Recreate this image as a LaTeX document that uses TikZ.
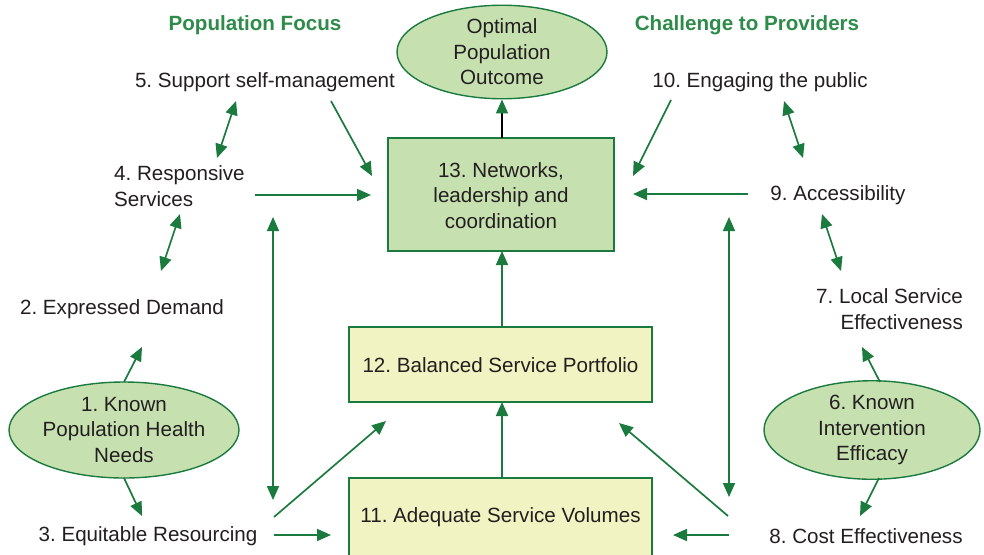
\documentclass[tikz,border=0pt]{standalone}
\usepackage{fontspec}
\setmainfont{Liberation Sans}
\usetikzlibrary{arrows.meta,shapes.geometric}
\definecolor{dkgreen}{HTML}{1B7A3E}
\definecolor{hdgreen}{HTML}{2E8B4A}
\definecolor{lgfill}{HTML}{C6E0B0}
\definecolor{lyfill}{HTML}{F1F3C2}
\definecolor{txt}{HTML}{231F20}
\frenchspacing
\begin{document}
\begin{tikzpicture}[x=1pt,y=-1pt,
  every node/.style={text=txt, font=\fontsize{20.6}{25.5}\selectfont},
  lbl/.style={inner sep=0pt},
  hdr/.style={inner sep=0pt, text=hdgreen, font=\fontsize{20.6}{24}\selectfont\bfseries},
  oval/.style={ellipse, draw=dkgreen, line width=1.4pt, fill=lgfill, inner sep=0pt, align=center},
  gbox/.style={rectangle, draw=dkgreen, line width=1.4pt, fill=lgfill, align=center},
  ybox/.style={rectangle, draw=dkgreen, line width=1.4pt, fill=lyfill, align=center},
  arr/.style={draw=dkgreen, line width=1.7pt, -{Triangle[length=14pt,width=12pt]}},
  biarr/.style={draw=dkgreen, line width=1.7pt, {Triangle[length=14pt,width=12pt]}-{Triangle[length=14pt,width=12pt]}}
]
\useasboundingbox (0,0) rectangle (984,554);
\fill[white] (0,0) rectangle (984,554);

% headers
\node[hdr] (h1) at (255,25) {Population Focus};
\node[hdr] (h2) at (747,25) {Challenge to Providers};

% central shapes
\node[oval, minimum width=210pt, minimum height=76pt] (opt) at (502,52) {Optimal\\Population\\Outcome};
\draw[gbox] (388,138) rectangle (614,251);
\node[inner sep=0pt, align=center] (b13) at (501,195.5) {13. Networks,\\leadership and\\coordination};
\coordinate (b13n) at (502,138); \coordinate (b13s) at (502,251);
\draw[ybox] (349,327) rectangle (652,402);
\node[inner sep=0pt] (b12) at (500.5,365) {12. Balanced Service Portfolio};
\coordinate (b12n) at (502,327); \coordinate (b12s) at (502,402);
\draw[ybox] (349,478) rectangle (652,570);
\node[inner sep=0pt] (b11) at (500.5,517) {11. Adequate Service Volumes};
\coordinate (b11n) at (502,478);

% side ovals
\node[oval, minimum width=228pt, minimum height=96pt] (o1) at (124,430) {1. Known\\Population Health\\Needs};
\node[oval, minimum width=216pt, minimum height=96pt] (o6) at (872,430) {6. Known\\Intervention\\Efficacy};

% labels
\node[lbl] (t5) at (265,82) {5. Support self-management};
\node[lbl, anchor=west, align=left] (t4) at (114,186) {4. Responsive\\Services};
\node[lbl] (t2) at (122,309) {2. Expressed Demand};
\node[lbl] (t3) at (148,536) {3. Equitable Resourcing};
\node[lbl] (t10) at (760,82) {10. Engaging the public};
\node[lbl] (t9) at (838,195) {9. Accessibility};
\node[lbl, anchor=east, align=right] (t7) at (963,309) {7. Local Service\\Effectiveness};
\node[lbl] (t8) at (866,536) {8. Cost Effectiveness};

% vertical centre arrows
\draw[line width=1.7pt, draw=black, -{Triangle[length=14pt,width=12pt,color=dkgreen]}] (b13n) -- (opt.south);
\draw[arr] (b12n) -- (b13s);
\draw[arr] (b11n) -- (b12s);

% into box 13
\coordinate (a5s) at (331,101); \coordinate (a5e) at (372,176);
\draw[arr] (a5s) -- (a5e);
\coordinate (a4s) at (255,195); \coordinate (a4e) at (371,195);
\draw[arr] (a4s) -- (a4e);
\coordinate (a10s) at (671,100); \coordinate (a10e) at (633,176);
\draw[arr] (a10s) -- (a10e);
\coordinate (a9s) at (748,194); \coordinate (a9e) at (633,194);
\draw[arr] (a9s) -- (a9e);

% double arrows between labels
\coordinate (d1a) at (236,101); \coordinate (d1b) at (217,158);
\draw[biarr] (d1a) -- (d1b);
\coordinate (d2a) at (180,214); \coordinate (d2b) at (161,271);
\draw[biarr] (d2a) -- (d2b);
\coordinate (d3a) at (784,101); \coordinate (d3b) at (803,158);
\draw[biarr] (d3a) -- (d3b);
\coordinate (d4a) at (822,214); \coordinate (d4b) at (841,271);
\draw[biarr] (d4a) -- (d4b);

% vertical long double arrows
\coordinate (vla) at (273,217); \coordinate (vlb) at (273,500);
\draw[biarr] (vla) -- (vlb);
\coordinate (vra) at (729,217); \coordinate (vrb) at (729,497);
\draw[biarr] (vra) -- (vrb);

% from ovals
\coordinate (e1a) at (124,382); \coordinate (e1b) at (142,347);
\draw[arr] (e1a) -- (e1b);
\coordinate (e1c) at (124,478); \coordinate (e1d) at (142,516);
\draw[arr] (e1c) -- (e1d);
\coordinate (e6a) at (880,382); \coordinate (e6b) at (862,347);
\draw[arr] (e6a) -- (e6b);
\coordinate (e6c) at (879,478); \coordinate (e6d) at (860,516);
\draw[arr] (e6c) -- (e6d);

% bottom arrows
\coordinate (b3a) at (274,517); \coordinate (b3b) at (386,421);
\draw[arr] (b3a) -- (b3b);
\coordinate (b3c) at (274,535); \coordinate (b3d) at (331,535);
\draw[arr] (b3c) -- (b3d);
\coordinate (b8a) at (728,516); \coordinate (b8b) at (619,423);
\draw[arr] (b8a) -- (b8b);
\coordinate (b8c) at (729,535); \coordinate (b8d) at (673,535);
\draw[arr] (b8c) -- (b8d);
\end{tikzpicture}
\end{document}
